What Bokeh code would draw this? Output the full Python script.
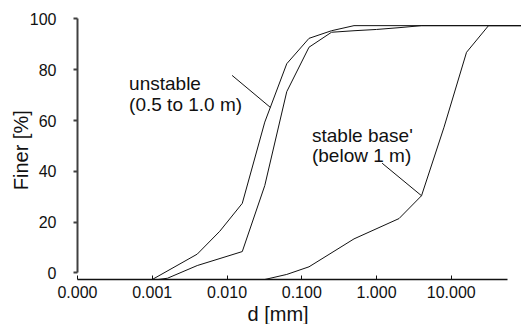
from bokeh.plotting import figure
from bokeh.models import Range1d, LinearAxis, FixedTicker, Title, NumeralTickFormatter
from bokeh.core.properties import value
from bokeh.embed import file_html
from bokeh.resources import INLINE

# --- data (grain size d [mm] vs. percent finer) ---
d_unstable_a = [0.001, 0.004, 0.008, 0.016, 0.032, 0.063, 0.125, 0.25, 0.5, 100]
p_unstable_a = [0, 10, 19, 30, 62, 85, 95, 98, 100, 100]

d_unstable_b = [0.0012, 0.0016, 0.004, 0.016, 0.032, 0.063, 0.125, 0.25, 0.5, 1, 2, 4, 100]
p_unstable_b = [0, 0.5, 5.5, 11, 37, 74, 91.5, 97.4, 98, 98.5, 99.2, 100, 100]

d_stable = [0.032, 0.063, 0.125, 0.5, 2, 4, 8, 16, 31.5, 100]
p_stable = [0, 2, 5, 16, 24, 33, 60, 89.5, 100, 100]

x_ticks = [0.0001, 0.001, 0.01, 0.1, 1, 10]
y_ticks = [0, 20, 40, 60, 80, 100]

# annotation texts and their anchors (data coordinates)
note_text = ["unstable", "(0.5 to 1.0 m)", "stable base'", "(below 1 m)"]
note_x = [0.00049, 0.00049, 0.137, 0.137]
note_y = [77.3, 68.9, 56.9, 48.9]

leader_x0 = [0.0117, 1.19]
leader_y0 = [80.4, 45.8]
leader_x1 = [0.038, 4.0]
leader_y1 = [67.8, 33.0]

FONT = "Liberation Sans"
INK = "#111111"

p = figure(width=521, height=324, x_axis_type="log",
           x_range=Range1d(1e-4, 87), y_range=Range1d(0, 104),
           output_backend="svg", toolbar_location=None, y_axis_location=None,
           min_border_left=77, min_border_right=0, min_border_top=15, min_border_bottom=44)
p.outline_line_color = None
p.background_fill_color = "white"
p.border_fill_color = "white"
p.xgrid.visible = False
p.ygrid.visible = False

# x axis
xa = p.xaxis[0]
xa.ticker = FixedTicker(ticks=x_ticks)
xa.formatter = NumeralTickFormatter(format="0.000")
xa.bounds = (1e-4, 56)
xa.axis_line_color = INK
xa.axis_line_width = 1.5
xa.major_tick_in = 4
xa.major_tick_out = 0
xa.major_tick_line_color = INK
xa.minor_tick_line_color = None
xa.major_label_standoff = 6
xa.major_label_text_font = FONT
xa.major_label_text_font_size = "16px"
xa.major_label_text_color = INK

# y axis, drawn slightly offset upward as in the original
p.extra_y_ranges = {"ax": Range1d(-2.63, 101.37)}
ya = LinearAxis(y_range_name="ax", bounds=(0, 100), ticker=FixedTicker(ticks=y_ticks))
ya.axis_line_color = "#404040"
ya.axis_line_width = 2
ya.major_tick_in = 0
ya.major_tick_out = 4
ya.major_tick_line_color = "#404040"
ya.major_tick_line_width = 2
ya.minor_tick_line_color = None
ya.major_label_standoff = 17
ya.major_label_text_font = FONT
ya.major_label_text_font_size = "16px"
ya.major_label_text_color = INK
ya.axis_label = "Finer  [%]"
ya.axis_label_text_font = FONT
ya.axis_label_text_font_size = "20px"
ya.axis_label_text_font_style = "normal"
ya.axis_label_text_color = INK
ya.axis_label_standoff = -5
p.add_layout(ya, "left")

# x axis label as left-offset text below the axis
p.add_layout(Title(text="d [mm]", align="left", offset=170, standoff=0,
                   text_font=FONT, text_font_size="20px", text_font_style="normal",
                   text_color=INK), "below")

# curves
for d, pc in [(d_unstable_a, p_unstable_a), (d_unstable_b, p_unstable_b), (d_stable, p_stable)]:
    p.line(d, pc, line_color=INK, line_width=1)

# leader lines and notes
p.segment(x0=leader_x0, y0=leader_y0, x1=leader_x1, y1=leader_y1, line_color=INK, line_width=1)
p.text(x=note_x, y=note_y, text=note_text, text_font=value(FONT), text_font_size="19px",
       text_baseline="alphabetic", text_align="left", text_color=INK)

open("out.html", "w").write(file_html(p, INLINE))
